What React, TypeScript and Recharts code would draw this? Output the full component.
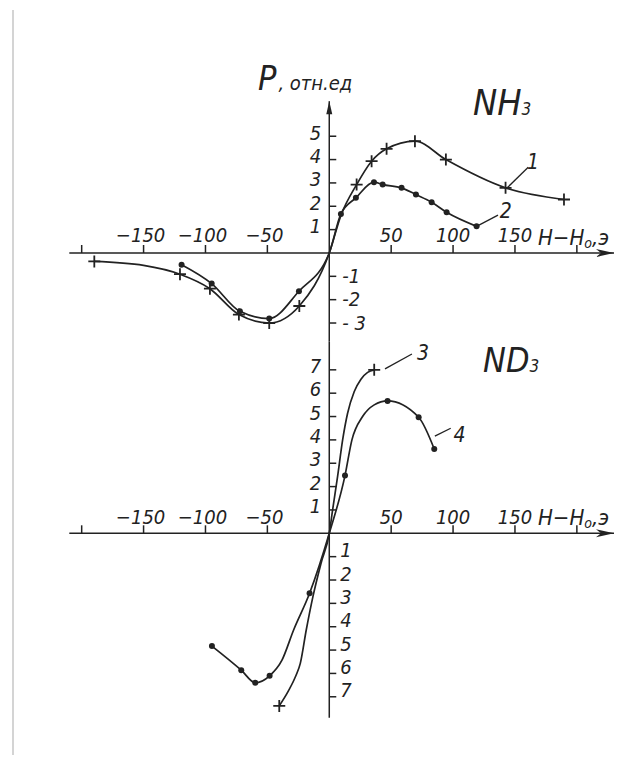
import React from 'react';
import { ComposedChart, Line, XAxis, YAxis, ReferenceLine, ReferenceDot } from 'recharts';

const INK = '#222';
const FONT = "'DejaVu Sans Condensed', 'DejaVu Sans', sans-serif";

// ---- axis ticks ----
const xTicks = [-200, -150, -100, -50, 50, 100, 150, 200];
const xTickLabels = ['', '−150', '−100', '−50', '50', '100', '150', ''];

const nh3Ticks = [5, 4, 3, 2, 1, -1, -2, -3];
const nh3TickLabels = ['5', '4', '3', '2', '1', '-1', '-2', '- 3'];

const nd3Ticks = [7, 6, 5, 4, 3, 2, 1, -1, -2, -3, -4, -5, -6, -7];
const nd3TickLabels = ['7', '6', '5', '4', '3', '2', '1', '1', '2', '3', '4', '5', '6', '7'];

type Pt = { x: number; y: number };

// ---- NH3, curve 1 (crosses) ----
const curve1Marks: Pt[] = [
  { x: -189.8, y: -0.36 }, { x: -120.6, y: -0.91 }, { x: -96.4, y: -1.53 },
  { x: -73, y: -2.64 }, { x: -48.5, y: -3.0 }, { x: -24.2, y: -2.27 },
  { x: 22.1, y: 2.93 }, { x: 34.2, y: 3.93 }, { x: 46.3, y: 4.46 },
  { x: 69.2, y: 4.79 }, { x: 94.2, y: 4.0 }, { x: 142.4, y: 2.79 }, { x: 189.6, y: 2.29 },
];
const curve1Path: Pt[] = [{ x: -150, y: -0.53 }, { x: 0, y: 0 }, { x: 9.5, y: 1.62 }];

// ---- NH3, curve 2 (dots) ----
const curve2Marks: Pt[] = [
  { x: -119.3, y: -0.5 }, { x: -95, y: -1.31 }, { x: -72.2, y: -2.5 },
  { x: -48.5, y: -2.81 }, { x: -24.5, y: -1.64 }, { x: 9.4, y: 1.67 },
  { x: 21.5, y: 2.36 }, { x: 36.1, y: 3.03 }, { x: 43.1, y: 2.93 },
  { x: 58.4, y: 2.79 }, { x: 70, y: 2.5 }, { x: 82.7, y: 2.17 },
  { x: 94.8, y: 1.74 }, { x: 119, y: 1.14 },
];
const curve2Path: Pt[] = [{ x: 0, y: 0 }];

// ---- ND3, curve 3 (crosses at the ends) ----
const curve3Marks: Pt[] = [{ x: -40.4, y: -7.39 }, { x: 36.3, y: 7.0 }];
const curve3Path: Pt[] = [
  { x: -33, y: -6.75 }, { x: -27, y: -6.1 }, { x: -23.4, y: -5.57 },
  { x: -18.6, y: -4.14 }, { x: -13.2, y: -2.71 }, { x: -6.7, y: -1.29 },
  { x: 0, y: 0 }, { x: 2.7, y: 1.0 }, { x: 6.7, y: 2.43 }, { x: 10.8, y: 4.0 },
  { x: 14.8, y: 5.14 }, { x: 20.2, y: 6.07 }, { x: 25.6, y: 6.6 }, { x: 31, y: 6.89 },
];

// ---- ND3, curve 4 (dots) ----
const curve4Marks: Pt[] = [
  { x: -94.8, y: -4.83 }, { x: -71.1, y: -5.86 }, { x: -59.8, y: -6.4 },
  { x: -48.2, y: -6.1 }, { x: -15.9, y: -2.57 }, { x: 12.7, y: 2.47 },
  { x: 47.1, y: 5.67 }, { x: 72.2, y: 4.97 }, { x: 84.8, y: 3.61 },
];
const curve4Path: Pt[] = [
  { x: -38.2, y: -5.43 }, { x: -28.8, y: -4.14 }, { x: 0, y: 0 },
  { x: 18.3, y: 4.0 }, { x: 26.9, y: 5.0 }, { x: 36.3, y: 5.5 },
];

const byX = (a: Pt[]) => [...a].sort((p, q) => p.x - q.x);
const curve1Line = byX([...curve1Marks, ...curve1Path]);
const curve2Line = byX([...curve2Marks, ...curve2Path]);
const curve3Line = byX([...curve3Marks, ...curve3Path]);
const curve4Line = byX([...curve4Marks, ...curve4Path]);

const X_DOMAIN: [number, number] = [-210, 230];

const Cross = (p: any) => (
  <g key={`c${p.index}`}>
    <line x1={p.cx - 6} y1={p.cy} x2={p.cx + 6} y2={p.cy} stroke={INK} strokeWidth={1.8} />
    <line x1={p.cx} y1={p.cy - 6} x2={p.cx} y2={p.cy + 6} stroke={INK} strokeWidth={1.8} />
  </g>
);
const Dot = (p: any) => <circle key={`d${p.index}`} cx={p.cx} cy={p.cy} r={3} fill={INK} />;

const xTickShape = (p: any) => (
  <line x1={p.cx} y1={p.cy} x2={p.cx} y2={p.cy - 8} stroke={INK} strokeWidth={1.5} />
);
const yTickShape = (p: any) => (
  <line x1={p.cx} y1={p.cy} x2={p.cx + 7} y2={p.cy} stroke={INK} strokeWidth={1.5} />
);
const upArrow = (p: any) => (
  <polygon points={`${p.cx},${p.cy} ${p.cx - 3},${p.cy + 13} ${p.cx + 3},${p.cy + 13}`} fill={INK} />
);
const rightArrow = (p: any) => (
  <polygon points={`${p.cx},${p.cy} ${p.cx - 18},${p.cy - 4} ${p.cx - 13},${p.cy} ${p.cx - 18},${p.cy + 4}`} fill={INK} />
);

const txt = (content: React.ReactNode, dx: number, dy: number, anchor: string, size: number, weight: number = 400) =>
  (p: any) => (
    <text x={p.cx + dx} y={p.cy + dy} textAnchor={anchor} fontSize={size} fontFamily={FONT}
      fontStyle="italic" fontWeight={weight} fill={INK}>{content}</text>
  );

const hLabel = (
  <>
    {'H−H'}
    <tspan fontSize={14} dy={3}>o</tspan>
    <tspan dy={-3}>,э</tspan>
  </>
);

function XAxisDecor({ baseDy }: { baseDy: number }) {
  return (
    <>
      <ReferenceLine y={0} stroke={INK} strokeWidth={1.5} />
      <ReferenceDot x={X_DOMAIN[1]} y={0} ifOverflow="visible" shape={rightArrow} />
      {xTicks.map((t, i) => (
        <ReferenceDot key={`xt${i}`} x={t} y={0} ifOverflow="visible" shape={xTickShape} />
      ))}
      {xTicks.map((t, i) =>
        xTickLabels[i] ? (
          <ReferenceDot key={`xl${i}`} x={t} y={0} ifOverflow="visible"
            shape={txt(xTickLabels[i], t < 0 ? -3 : 0, baseDy, 'middle', 20)} />
        ) : null
      )}
      <ReferenceDot x={168.6} y={0} ifOverflow="visible" shape={txt(hLabel, 0, -8, 'start', 22)} />
    </>
  );
}

export default function App() {
  return (
    <div style={{ position: 'absolute', left: 0, top: 0, width: 635, height: 761, background: '#fff', overflow: 'hidden' }}>
      <div style={{ position: 'absolute', left: 12, top: 10, width: 2, height: 745, background: '#d4d4d4' }} />

      {/* NH3 panel */}
      <div style={{ position: 'absolute', left: 0, top: 0 }}>
        <ComposedChart width={635} height={342} margin={{ top: 101.2, right: 21, bottom: 0.3, left: 69.3 }}>
          <XAxis type="number" dataKey="x" domain={X_DOMAIN} hide allowDataOverflow />
          <YAxis type="number" dataKey="y" domain={[-3.8, 6.5]} hide allowDataOverflow />
          <XAxisDecor baseDy={-11} />
          <ReferenceLine x={0} stroke={INK} strokeWidth={1.5} />
          <ReferenceDot x={0} y={6.5} ifOverflow="visible" shape={upArrow} />
          {nh3Ticks.map((t, i) => (
            <ReferenceDot key={`yt${i}`} x={0} y={t} ifOverflow="visible" shape={yTickShape} />
          ))}
          {nh3Ticks.map((t, i) => (
            <ReferenceDot key={`yl${i}`} x={0} y={t} ifOverflow="visible"
              shape={t > 0 ? txt(nh3TickLabels[i], -8, 3.5, 'end', 20) : txt(nh3TickLabels[i], 13, 6.5, 'start', 20)} />
          ))}
          <ReferenceDot x={-57.6} y={6.98} ifOverflow="visible"
            shape={txt(<>{'P'}<tspan fontSize={20} dx={2}>, отн.ед</tspan></>, 0, 0, 'start', 34)} />
          <ReferenceDot x={116.1} y={5.91} ifOverflow="visible"
            shape={txt(<>{'NH'}<tspan fontSize={17}>3</tspan></>, 0, 0, 'start', 36, 200)} />

          <Line data={curve1Line} dataKey="y" type="monotone" stroke={INK} strokeWidth={1.7} dot={false} activeDot={false} isAnimationActive={false} />
          <Line data={curve2Line} dataKey="y" type="monotone" stroke={INK} strokeWidth={1.7} dot={false} activeDot={false} isAnimationActive={false} />
          <Line data={curve1Marks} dataKey="y" stroke="none" dot={Cross} activeDot={false} isAnimationActive={false} />
          <Line data={curve2Marks} dataKey="y" stroke="none" dot={Dot} activeDot={false} isAnimationActive={false} />

          <ReferenceLine segment={[{ x: 143.3, y: 2.77 }, { x: 160.7, y: 3.67 }]} stroke={INK} strokeWidth={1.3} ifOverflow="visible" />
          <ReferenceLine segment={[{ x: 119, y: 1.14 }, { x: 136.3, y: 1.62 }]} stroke={INK} strokeWidth={1.3} ifOverflow="visible" />
          <ReferenceDot x={164.5} y={3.6} ifOverflow="visible" shape={txt('1', 0, 0, 'middle', 21)} />
          <ReferenceDot x={142.5} y={1.5} ifOverflow="visible" shape={txt('2', 0, 0, 'middle', 21)} />
        </ComposedChart>
      </div>

      {/* ND3 panel */}
      <div style={{ position: 'absolute', left: 0, top: 340 }}>
        <ComposedChart width={635} height={421} margin={{ top: 1.8, right: 21, bottom: 43.2, left: 69.3 }}>
          <XAxis type="number" dataKey="x" domain={X_DOMAIN} hide allowDataOverflow />
          <YAxis type="number" dataKey="y" domain={[-7.9, 8.2]} hide allowDataOverflow />
          <XAxisDecor baseDy={-9} />
          <ReferenceLine x={0} stroke={INK} strokeWidth={1.5} />
          {nd3Ticks.map((t, i) => (
            <ReferenceDot key={`yt${i}`} x={0} y={t} ifOverflow="visible" shape={yTickShape} />
          ))}
          {nd3Ticks.map((t, i) => (
            <ReferenceDot key={`yl${i}`} x={0} y={t} ifOverflow="visible"
              shape={t > 0 ? txt(nd3TickLabels[i], -8, 3, 'end', 20) : txt(nd3TickLabels[i], 11, 0.5, 'start', 20)} />
          ))}
          <ReferenceDot x={124.2} y={6.91} ifOverflow="visible"
            shape={txt(<>{'ND'}<tspan fontSize={17}>3</tspan></>, 0, 0, 'start', 34, 200)} />

          <Line data={curve3Line} dataKey="y" type="monotone" stroke={INK} strokeWidth={1.7} dot={false} activeDot={false} isAnimationActive={false} />
          <Line data={curve4Line} dataKey="y" type="monotone" stroke={INK} strokeWidth={1.7} dot={false} activeDot={false} isAnimationActive={false} />
          <Line data={curve3Marks} dataKey="y" stroke="none" dot={Cross} activeDot={false} isAnimationActive={false} />
          <Line data={curve4Marks} dataKey="y" stroke="none" dot={Dot} activeDot={false} isAnimationActive={false} />

          <ReferenceLine segment={[{ x: 45, y: 7.04 }, { x: 66.8, y: 7.68 }]} stroke={INK} strokeWidth={1.3} ifOverflow="visible" />
          <ReferenceLine segment={[{ x: 85.3, y: 4.16 }, { x: 98.1, y: 4.5 }]} stroke={INK} strokeWidth={1.3} ifOverflow="visible" />
          <ReferenceDot x={75.7} y={7.42} ifOverflow="visible" shape={txt('3', 0, 0, 'middle', 21)} />
          <ReferenceDot x={105.2} y={3.92} ifOverflow="visible" shape={txt('4', 0, 0, 'middle', 21)} />
        </ComposedChart>
      </div>
    </div>
  );
}
